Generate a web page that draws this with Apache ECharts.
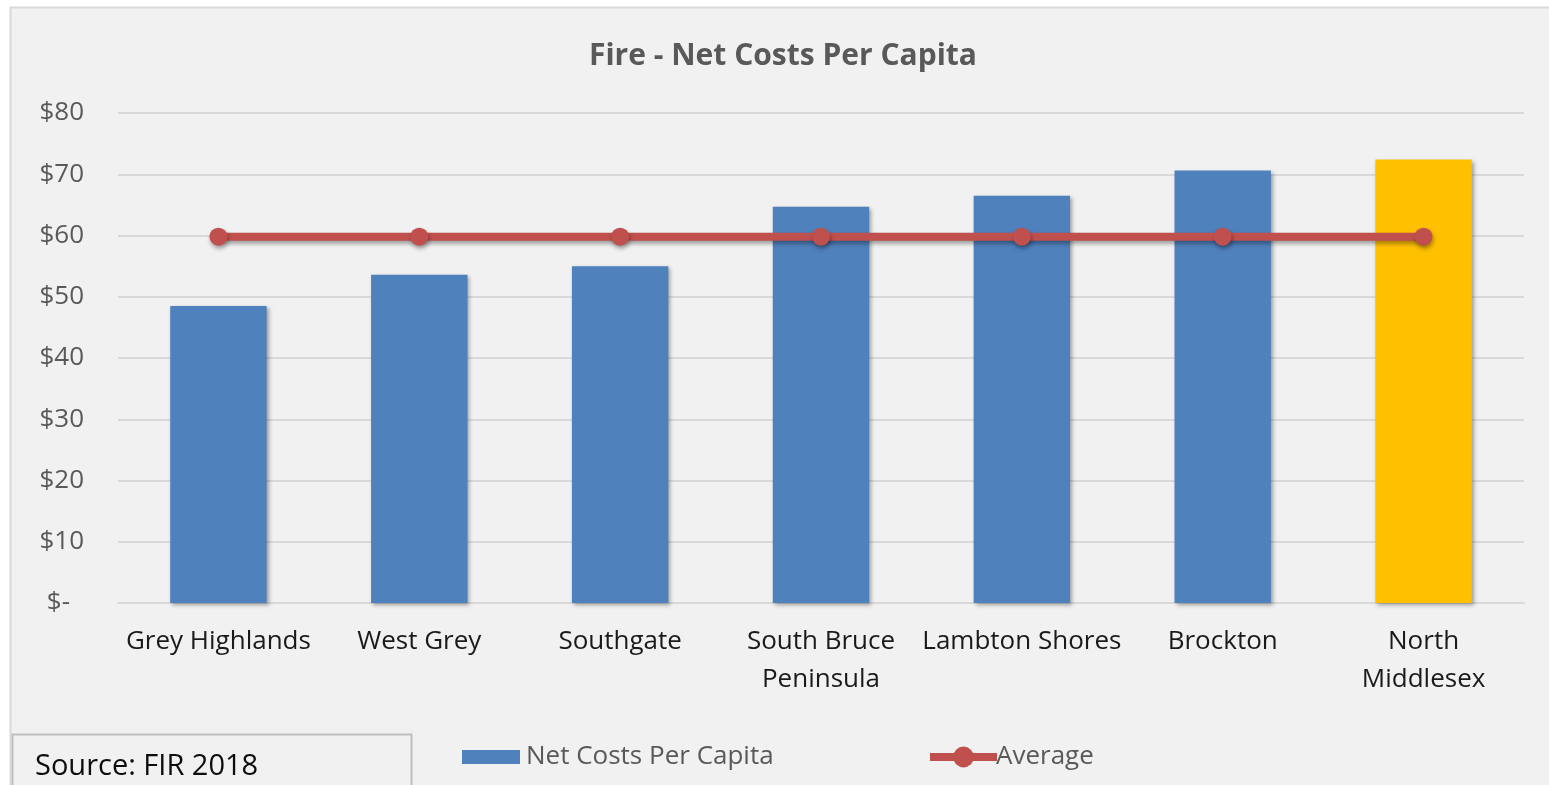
<!DOCTYPE html>
<html>
<head>
<meta charset="utf-8">
<style>
  html, body { margin: 0; padding: 0; background: #ffffff; }
  #chart { width: 1549px; height: 785px; }
</style>
<script src="https://cdn.jsdelivr.net/npm/echarts@6/dist/echarts.min.js"></script>
</head>
<body>
<div id="chart"></div>
<script>
// Fire department net costs per capita by municipality (FIR 2018)
const categories = ['Grey Highlands', 'West Grey', 'Southgate', 'South Bruce\nPeninsula', 'Lambton Shores', 'Brockton', 'North\nMiddlesex'];
const netCosts = [48.5, 53.6, 55.0, 64.7, 66.5, 70.6, 72.4];
const average = [59.8, 59.8, 59.8, 59.8, 59.8, 59.8, 59.8];
const highlighted = 'North\nMiddlesex';

const FONT = '"Open Sans", "Noto Sans", sans-serif';
const BLUE = '#4f81bd';
const GOLD = '#ffc000';
const RED = '#c0504d';

const chart = echarts.init(document.getElementById('chart'));

chart.setOption({
  backgroundColor: 'transparent',
  animation: false,
  textStyle: { fontFamily: FONT },
  title: {
    text: 'Fire - Net Costs Per Capita',
    left: 589,
    top: 41,
    padding: 0,
    textStyle: { fontFamily: FONT, fontSize: 30, fontWeight: 'bold', color: '#595959' }
  },
  graphic: [
    {
      type: 'rect', z: -10, silent: true,
      shape: { x: 10.5, y: 7.5, width: 1560, height: 800 },
      style: { fill: '#f1f1f1', stroke: '#d9d9d9', lineWidth: 2 }
    },
    {
      type: 'rect', z: 10, silent: true,
      shape: { x: 12.5, y: 734.5, width: 399, height: 60 },
      style: { fill: '#f1f1f1', stroke: '#bfbfbf', lineWidth: 2 }
    },
    {
      type: 'text', z: 11, silent: true,
      left: 35, top: 752,
      style: { text: 'Source: FIR 2018', fill: '#0d0d0d', font: '29px ' + FONT }
    }
  ],
  legend: [
    {
      data: ['Net Costs Per Capita'],
      left: 462, top: 744, padding: 0,
      itemWidth: 58, itemHeight: 14, itemGap: 6,
      icon: 'rect',
      textStyle: { fontFamily: FONT, fontSize: 26, color: '#595959', padding: [0, 0, 0, 1] }
    },
    {
      data: ['Average'],
      left: 926, top: 744, padding: 0,
      itemWidth: 67, itemHeight: 26,
      lineStyle: { color: RED, width: 8 },
      itemStyle: { color: RED },
      textStyle: { fontFamily: FONT, fontSize: 26, color: '#595959', padding: [0, 0, 0, -6] }
    }
  ],
  grid: { left: 118, right: 25, top: 113, bottom: 182, containLabel: false },
  xAxis: {
    type: 'category',
    data: categories,
    axisTick: { show: false },
    axisLine: { lineStyle: { color: '#d9d9d9', width: 2 } },
    axisLabel: {
      interval: 0,
      margin: 20,
      fontFamily: FONT, fontSize: 26, color: '#1a1a1a',
      lineHeight: 38
    }
  },
  yAxis: {
    type: 'value',
    min: 0, max: 80, interval: 10,
    axisLine: { show: false },
    axisTick: { show: false },
    splitLine: { lineStyle: { color: '#d9d9d9', width: 2 } },
    axisLabel: {
      margin: 34,
      fontFamily: FONT, fontSize: 26, color: '#595959',
      formatter: v => v === 0 ? '{z|$-}' : '$' + v,
      rich: { z: { fontFamily: FONT, fontSize: 26, color: '#595959', padding: [0, 14, 0, 0] } }
    }
  },
  series: [
    {
      name: 'Net Costs Per Capita',
      type: 'bar',
      barWidth: '48%',
      itemStyle: {
        color: BLUE,
        shadowColor: 'rgba(0,0,0,0.35)', shadowBlur: 4, shadowOffsetX: 2, shadowOffsetY: 2
      },
      data: netCosts.map((v, i) => categories[i] === highlighted
        ? { value: v, itemStyle: { color: GOLD } }
        : v)
    },
    {
      name: 'Average',
      type: 'line',
      data: average,
      symbol: 'circle',
      symbolSize: 18,
      lineStyle: {
        color: RED, width: 8,
        shadowColor: 'rgba(0,0,0,0.35)', shadowBlur: 4, shadowOffsetX: 1, shadowOffsetY: 3
      },
      itemStyle: {
        color: RED,
        shadowColor: 'rgba(0,0,0,0.35)', shadowBlur: 4, shadowOffsetX: 1, shadowOffsetY: 3
      },
      z: 5
    }
  ]
});
</script>
</body>
</html>
